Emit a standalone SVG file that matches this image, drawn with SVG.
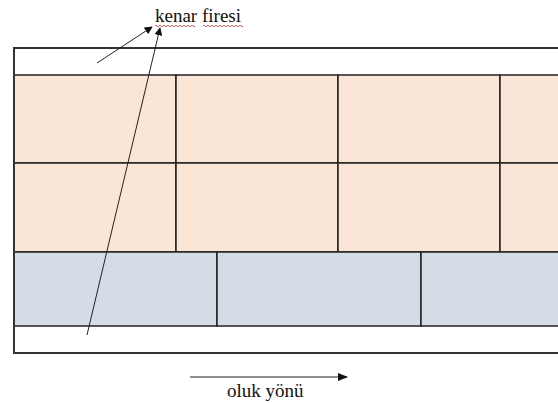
<svg xmlns="http://www.w3.org/2000/svg" width="558" height="403" viewBox="0 0 558 403">
<style>
.peach{fill:#FBE5D6;stroke:#222;stroke-width:1.5}
.blue{fill:#D6DCE5;stroke:#222;stroke-width:1.5}
.strip{fill:#fff;stroke:#333;stroke-width:2}
.conn{stroke:#222;stroke-width:1;fill:none}
.lbl{font-size:19px;fill:#111}
</style>
<defs>
<marker id="ah" viewBox="0 0 10 10" refX="9" refY="5" markerWidth="8" markerHeight="8" markerUnits="userSpaceOnUse" orient="auto">
<path d="M0,0 L10,5 L0,10 z" fill="#111"/>
</marker>
<marker id="ah2" viewBox="0 0 10 10" refX="9" refY="5" markerWidth="10" markerHeight="10" markerUnits="userSpaceOnUse" orient="auto">
<path d="M0,1 L10,5 L0,9 z" fill="#111"/>
</marker>
</defs>
<g id="board">
<rect class="strip" x="14" y="48" width="560" height="305"/>
</g>
<g id="peach-row1">
<rect class="peach" x="14" y="75" width="162" height="88"/>
<rect class="peach" x="176" y="75" width="162" height="88"/>
<rect class="peach" x="338" y="75" width="162" height="88"/>
<rect class="peach" x="500" y="75" width="162" height="88"/>
</g>
<g id="peach-row2">
<rect class="peach" x="14" y="163" width="162" height="89"/>
<rect class="peach" x="176" y="163" width="162" height="89"/>
<rect class="peach" x="338" y="163" width="162" height="89"/>
<rect class="peach" x="500" y="163" width="162" height="89"/>
</g>
<g id="blue-row">
<rect class="blue" x="14" y="252" width="203" height="74"/>
<rect class="blue" x="217" y="252" width="204" height="74"/>
<rect class="blue" x="421" y="252" width="204" height="74"/>
</g>
<line x1="14" y1="48" x2="14" y2="353" stroke="#333" stroke-width="2"/>
<g id="connectors">
<line class="conn" x1="97" y1="63" x2="152" y2="27" marker-end="url(#ah)"/>
<line class="conn" x1="87" y1="335" x2="160" y2="28" marker-end="url(#ah)"/>
<line class="conn" x1="190" y1="377" x2="347" y2="377" stroke-width="1.5" marker-end="url(#ah2)"/>
</g>
<g id="label-kenar">
<text class="lbl" font-family="Liberation Serif, DejaVu Serif, Times New Roman, serif" x="155" y="22">kenar firesi</text>
<path d="M155,26 q1,-2 2,0 t2,0 t2,0 t2,0 t2,0 t2,0 t2,0 t2,0 t2,0 t2,0 t2,0 t2,0 t2,0 t2,0 t2,0 t2,0 t2,0 t2,0 t2,0 t2,0" fill="none" stroke="#d33" stroke-width="0.8"/>
<path d="M203,26 q1,-2 2,0 t2,0 t2,0 t2,0 t2,0 t2,0 t2,0 t2,0 t2,0 t2,0 t2,0 t2,0 t2,0 t2,0 t2,0 t2,0 t2,0 t2,0 t2,0 t2,0" fill="none" stroke="#d33" stroke-width="0.8"/>
</g>
<g id="label-oluk">
<text class="lbl" font-family="Liberation Serif, DejaVu Serif, Times New Roman, serif" x="227" y="397">oluk yönü</text>
</g>
</svg>
